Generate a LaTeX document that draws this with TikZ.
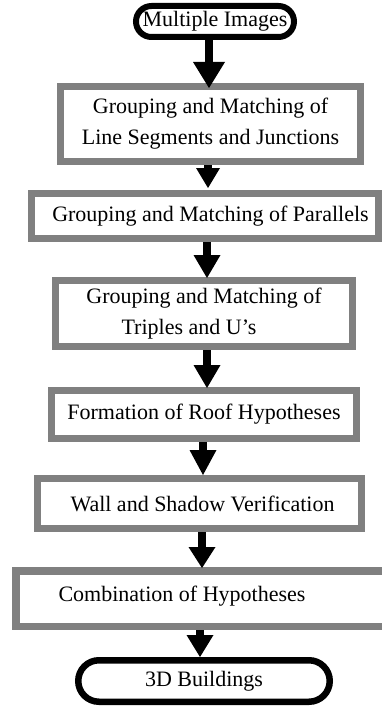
\documentclass[tikz,border=0pt]{standalone}
\usepackage{fontspec}
\setmainfont{Liberation Serif}
\usetikzlibrary{arrows.meta}
\definecolor{boxgray}{HTML}{808080}
\newcommand{\fs}{\fontsize{22}{31}\selectfont}
\tikzset{
  procbox/.style={draw=boxgray, line width=7pt, fill=white, inner sep=0pt, align=center, font=\fs},
  termbox/.style={draw=black, fill=white, inner sep=0pt, align=center, font=\fs},
  txt/.style={inner sep=0pt, font=\fs},
  arr/.style={draw=black, line width=8pt, -{Triangle[length=23pt,width=27pt,line width=0pt]}},
  bigarr/.style={draw=black, line width=8pt, -{Triangle[length=26pt,width=32pt,line width=0pt]}},
}
\begin{document}
\begin{tikzpicture}[x=1pt,y=-1pt]
\useasboundingbox (0,0) rectangle (382,709);
\fill[white] (0,0) rectangle (382,709);

\node[termbox, line width=6pt, minimum width=158pt, minimum height=31pt, rounded corners=15.5pt] (s) at (215,21.5) {Multiple Images};

\node[procbox, minimum width=300pt, minimum height=75pt] (b1) at (210.5,124) {Grouping and Matching of\\Line Segments and Junctions};

\node[procbox, minimum width=347pt, minimum height=45pt] (b2) at (205,216) {\rule{11pt}{0pt}Grouping and Matching of Parallels};

\node[procbox, minimum width=297pt, minimum height=66pt] (b3) at (204,313.5) {Grouping and Matching of\\Triples and U’s\rule{30pt}{0pt}};

\node[procbox, minimum width=305pt, minimum height=48pt] (b4) at (204,414.5) {Formation of Roof Hypotheses};

\node[procbox, minimum width=324pt, minimum height=50pt] (b5) at (199.5,503.5) {\rule{6pt}{0pt}Wall and Shadow Verification};

\node[procbox, line width=7.5pt, minimum width=420.5pt, minimum height=55.5pt] (b6) at (226,598.5) {};
\node[txt] (t6) at (182,596) {Combination of Hypotheses};

\node[termbox, line width=6.5pt, minimum width=251.5pt, minimum height=41.5pt, rounded corners=20.75pt] (e) at (204,681) {3D Buildings};

\draw[bigarr, shorten >=-5pt] ([xshift=-6pt]s.south) -- ([xshift=-1.5pt]b1.north);
\draw[arr, shorten >=2pt, -{Triangle[length=20pt,width=24pt,line width=0pt]}] ([xshift=-2.5pt]b1.south) -- ([xshift=3pt]b2.north);
\draw[arr, shorten >=-1pt] ([xshift=2pt]b2.south) -- ([xshift=3pt]b3.north);
\draw[arr, shorten >=-1pt] ([xshift=3pt]b3.south) -- ([xshift=3pt]b4.north);
\draw[arr, -{Triangle[length=25pt,width=27pt,line width=0pt]}] ([xshift=-1pt]b4.south) -- ([xshift=3.5pt]b5.north);
\draw[arr, shorten >=-1pt, -{Triangle[length=21pt,width=27pt,line width=0pt]}] ([xshift=2.5pt]b5.south) -- ([xshift=-24pt]b6.north);
\draw[arr, -{Triangle[length=22pt,width=27pt,line width=0pt]}] ([xshift=-26pt]b6.south) -- ([xshift=-4pt]e.north);
\end{tikzpicture}
\end{document}
